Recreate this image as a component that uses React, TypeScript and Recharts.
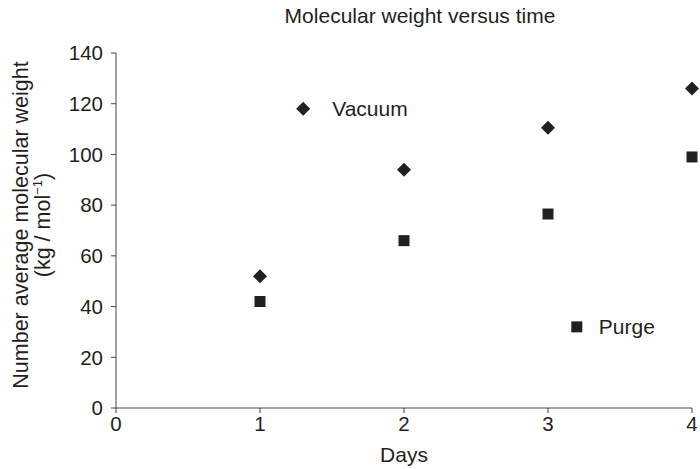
import { Scatter, ScatterChart, XAxis, YAxis } from 'recharts'

const days = [1, 2, 3, 4]
const vacuum = [52, 94, 110.5, 126]
const purge = [42, 66, 76.5, 99]
const xTicks = [0, 1, 2, 3, 4]
const yTicks = [0, 20, 40, 60, 80, 100, 120, 140]
// in-plot key markers (day, value)
const vacuumKey = [{ day: 1.3, mw: 118, name: 'Vacuum' }]
const purgeKey = [{ day: 3.2, mw: 32, name: 'Purge' }]

const vacuumData = days.map((d, i) => ({ day: d, mw: vacuum[i] }))
const purgeData = days.map((d, i) => ({ day: d, mw: purge[i] }))

const FONT = '"Liberation Sans", Arial, Helvetica, sans-serif'
const INK = '#231f20'

const Diamond = (p: any) => (
  <g>
    <polygon
      points={`${p.cx},${p.cy - 7} ${p.cx + 7},${p.cy} ${p.cx},${p.cy + 7} ${p.cx - 7},${p.cy}`}
      fill={INK}
    />
    {p.payload?.name && (
      <text x={p.cx + 29} y={p.cy + 7.5} fontSize={21} fill={INK} fontFamily={FONT}>
        {p.payload.name}
      </text>
    )}
  </g>
)

const Square = (p: any) => (
  <g>
    <rect x={p.cx - 5.5} y={p.cy - 5.5} width={11} height={11} fill={INK} />
    {p.payload?.name && (
      <text x={p.cx + 22} y={p.cy + 7.5} fontSize={21} fill={INK} fontFamily={FONT}>
        {p.payload.name}
      </text>
    )}
  </g>
)

const YLabel = () => (
  <text fontFamily={FONT} fontSize={21.5} fill={INK} textAnchor="middle" transform="translate(28,225) rotate(-90)">
    <tspan x={0} y={0}>Number average molecular weight</tspan>
    <tspan x={0} y={22}>(kg / mol</tspan>
    <tspan fontSize={13} dy={-8}>−1</tspan>
    <tspan dy={8}>)</tspan>
  </text>
)

export default function App() {
  return (
    <div style={{ position: 'absolute', left: 0, top: 0, background: '#fff' }}>
      <ScatterChart width={700} height={469} margin={{ top: 53, right: 8, bottom: 0, left: 0 }}>
        <text x={420} y={23} textAnchor="middle" fontSize={21} fill={INK} fontFamily={FONT}>
          Molecular weight versus time
        </text>
        <XAxis
          type="number"
          dataKey="day"
          domain={[0, 4]}
          ticks={xTicks}
          height={61}
          stroke="#444"
          tickSize={5}
          tickMargin={3}
          tick={{ fontSize: 20.5, fill: INK, fontFamily: FONT }}
          label={{ value: 'Days', position: 'insideBottom', offset: 7, fontSize: 21, fill: INK, fontFamily: FONT }}
        />
        <YAxis
          type="number"
          dataKey="mw"
          domain={[0, 140]}
          ticks={yTicks}
          width={116}
          stroke="#444"
          tickSize={5}
          tickMargin={8}
          tick={{ fontSize: 20.5, fill: INK, fontFamily: FONT }}
          label={<YLabel />}
        />
        <Scatter data={vacuumData} shape={Diamond} isAnimationActive={false} />
        <Scatter data={purgeData} shape={Square} isAnimationActive={false} />
        <Scatter data={vacuumKey} shape={Diamond} isAnimationActive={false} />
        <Scatter data={purgeKey} shape={Square} isAnimationActive={false} />
      </ScatterChart>
    </div>
  )
}
